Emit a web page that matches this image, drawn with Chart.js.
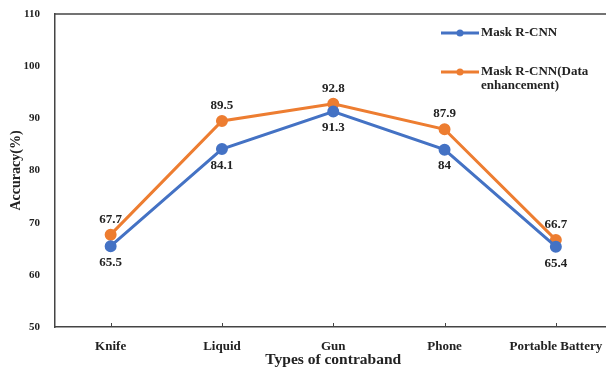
<!DOCTYPE html>
<html>
<head>
<meta charset="utf-8">
<script src="https://cdn.jsdelivr.net/npm/chart.js@4/dist/chart.umd.min.js"></script>
<style>
  html, body { margin: 0; padding: 0; background: #fff; overflow: hidden; }
</style>
</head>
<body>
<canvas id="acc" width="619" height="369"></canvas>
<script>
var categories = ["Knife", "Liquid", "Gun", "Phone", "Portable Battery"];
var maskRcnn = [65.5, 84.1, 91.3, 84, 65.4];
var maskRcnnAug = [67.7, 89.5, 92.8, 87.9, 66.7];
var yTicks = [50, 60, 70, 80, 90, 100, 110];

var serif = "'Liberation Serif', 'Times New Roman', serif";
var blue = '#4472C4';
var orange = '#ED7D31';

// value labels: orange above the point, blue below
var valueLabels = {
  id: 'valueLabels',
  afterDatasetsDraw: function(chart) {
    var c = chart.ctx;
    c.save();
    c.font = 'bold 13px ' + serif;
    c.fillStyle = '#222';
    c.textAlign = 'center';
    chart.data.datasets.forEach(function(ds, i) {
      var meta = chart.getDatasetMeta(i);
      meta.data.forEach(function(pt, j) {
        if (i === 1) {
          c.textBaseline = 'bottom';
          c.fillText(String(ds.data[j]), pt.x, pt.y - 9);
        } else {
          c.textBaseline = 'top';
          c.fillText(String(ds.data[j]), pt.x, pt.y + 10);
        }
      });
    });
    c.restore();
  }
};

// top border, inner tick marks on x axis, legend inside the plot
var frameAndLegend = {
  id: 'frameAndLegend',
  afterDraw: function(chart) {
    var c = chart.ctx, a = chart.chartArea, xs = chart.scales.x;
    c.save();
    c.strokeStyle = '#444';
    c.lineWidth = 1.5;
    c.beginPath();
    c.moveTo(a.left, a.top);
    c.lineTo(a.right, a.top);
    c.stroke();

    c.lineWidth = 1;
    categories.forEach(function(cat, i) {
      var x = Math.round(xs.getPixelForValue(i)) + 0.5;
      c.beginPath();
      c.moveTo(x, a.bottom);
      c.lineTo(x, a.bottom - 4);
      c.stroke();
    });

    var items = [
      { color: blue, lines: ['Mask R-CNN'], y: 33 },
      { color: orange, lines: ['Mask R-CNN(Data', 'enhancement)'], y: 72 }
    ];
    c.font = 'bold 13px ' + serif;
    c.textBaseline = 'middle';
    c.textAlign = 'left';
    items.forEach(function(it) {
      c.strokeStyle = it.color;
      c.lineWidth = 3;
      c.beginPath();
      c.moveTo(441, it.y);
      c.lineTo(479, it.y);
      c.stroke();
      c.fillStyle = it.color;
      c.beginPath();
      c.arc(460, it.y, 3.5, 0, Math.PI * 2);
      c.fill();
      c.fillStyle = '#222';
      it.lines.forEach(function(t, k) {
        c.fillText(t, 481, it.y + k * 14);
      });
    });
    c.restore();
  }
};

new Chart(document.getElementById('acc'), {
  type: 'line',
  data: {
    labels: categories,
    datasets: [{
      label: 'Mask R-CNN',
      data: maskRcnn,
      borderColor: blue,
      backgroundColor: blue,
      borderWidth: 3,
      pointRadius: 4.5,
      pointHoverRadius: 4.5
    }, {
      label: 'Mask R-CNN(Data enhancement)',
      data: maskRcnnAug,
      borderColor: orange,
      backgroundColor: orange,
      borderWidth: 3,
      pointRadius: 4.5,
      pointHoverRadius: 4.5
    }]
  },
  options: {
    responsive: false,
    animation: false,
    layout: { padding: { top: 14, right: 0, left: 0, bottom: 0 } },
    plugins: { legend: { display: false }, tooltip: { enabled: false } },
    scales: {
      x: {
        offset: true,
        grid: { display: false },
        border: { color: '#444', width: 1.5 },
        ticks: { color: '#222', font: { family: serif, weight: 'bold', size: 13 }, padding: 4, maxRotation: 0 },
        title: { display: true, text: 'Types of contraband', color: '#222', font: { family: serif, weight: 'bold', size: 15.5 }, padding: { top: 0, bottom: 0 } },
        afterFit: function(s) { s.height = 42; s.paddingLeft = 0; s.paddingRight = 0; }
      },
      y: {
        min: 50,
        max: 110,
        afterBuildTicks: function(s) { s.ticks = yTicks.map(function(v) { return { value: v }; }); },
        grid: { display: false },
        border: { color: '#444', width: 1.5 },
        ticks: { color: '#222', font: { family: serif, weight: 'bold', size: 11 }, padding: 7 },
        title: { display: true, text: 'Accuracy(%)', color: '#222', font: { family: serif, weight: 'bold', size: 14 }, padding: { top: 8, bottom: 0 } },
        afterFit: function(s) { s.width = 55; s.paddingTop = 0; s.paddingBottom = 0; }
      }
    }
  },
  plugins: [valueLabels, frameAndLegend]
});
</script>
</body>
</html>
